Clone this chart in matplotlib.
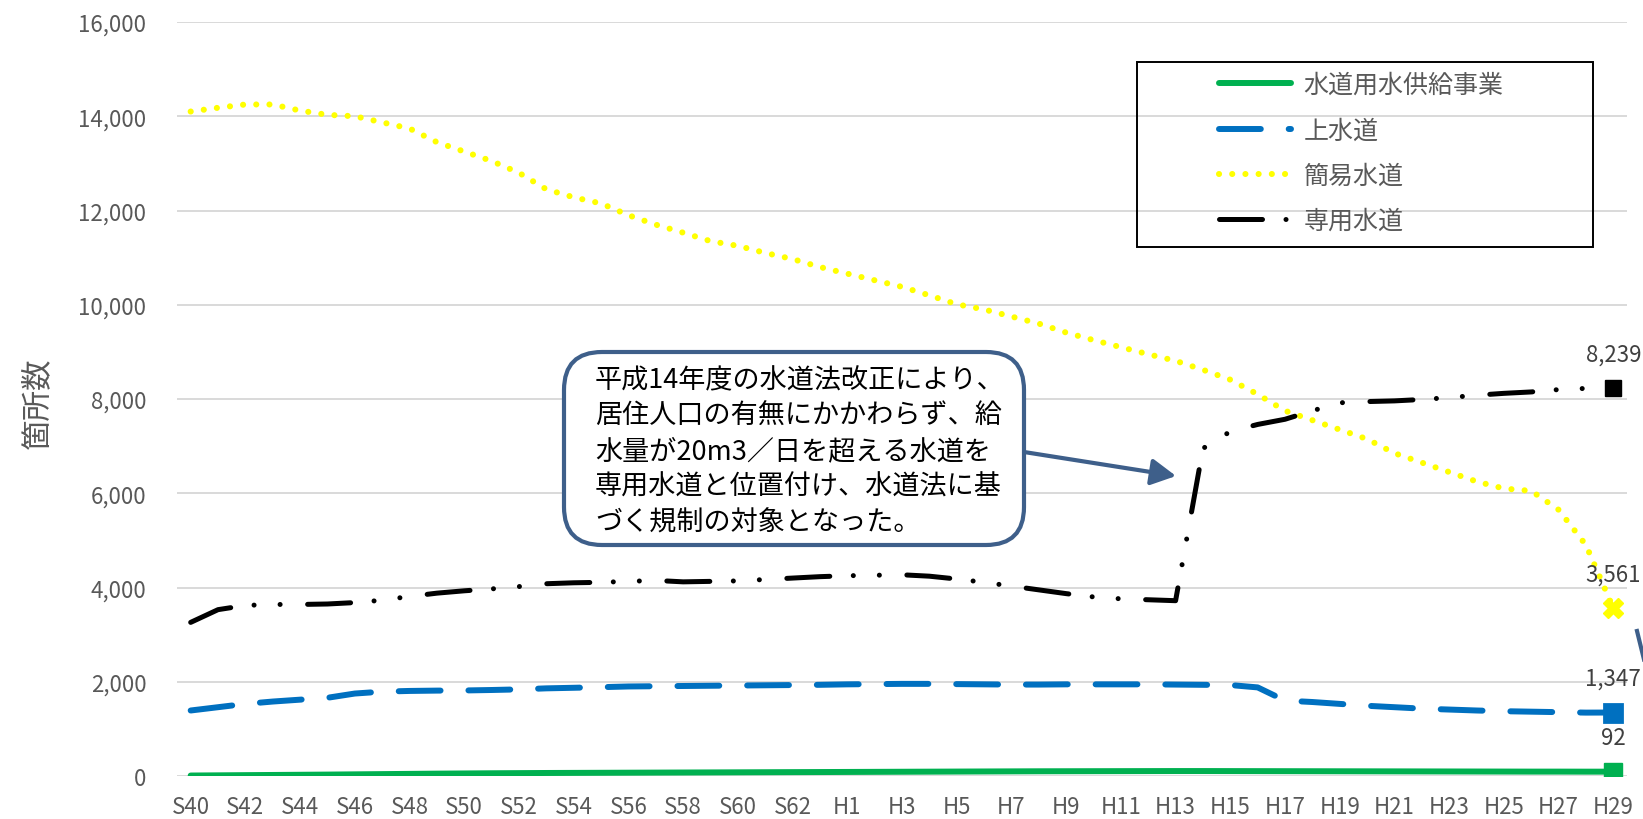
# 水道の種類別箇所数の推移 (S40 - H29)
import numpy as np
import matplotlib.pyplot as plt
from matplotlib.lines import Line2D
from matplotlib.patches import Rectangle, FancyBboxPatch, FancyArrowPatch

plt.rcParams['font.family'] = ['Noto Sans CJK JP', 'DejaVu Sans']

# data (年度ごと)
year_labels = ['S40', 'S41', 'S42', 'S43', 'S44', 'S45', 'S46', 'S47', 'S48', 'S49',
               'S50', 'S51', 'S52', 'S53', 'S54', 'S55', 'S56', 'S57', 'S58', 'S59',
               'S60', 'S61', 'S62', 'S63', 'H1', 'H2', 'H3', 'H4', 'H5', 'H6',
               'H7', 'H8', 'H9', 'H10', 'H11', 'H12', 'H13', 'H14', 'H15', 'H16',
               'H17', 'H18', 'H19', 'H20', 'H21', 'H22', 'H23', 'H24', 'H25', 'H26',
               'H27', 'H28', 'H29']

suido_kyokyu = [10, 14, 18, 22, 26, 30, 35, 40, 45, 50,
                54, 58, 61, 64, 66, 68, 70, 72, 74, 76,
                78, 80, 82, 84, 86, 88, 90, 92, 94, 96,
                98, 100, 101, 102, 103, 104, 105, 105, 104, 103,
                102, 101, 100, 99, 98, 97, 96, 95, 94, 93,
                93, 92, 92]

josuido = [1390, 1460, 1530, 1580, 1620, 1660, 1750, 1790, 1805, 1812,
           1815, 1825, 1838, 1860, 1872, 1885, 1900, 1905, 1910, 1915,
           1920, 1925, 1930, 1935, 1945, 1950, 1955, 1955, 1950, 1945,
           1940, 1940, 1945, 1945, 1945, 1945, 1940, 1935, 1930, 1880,
           1600, 1570, 1530, 1490, 1460, 1430, 1410, 1390, 1375, 1365,
           1355, 1345, 1347]

kani_suido = [14100, 14180, 14250, 14250, 14120, 14030, 14000, 13870, 13740, 13450,
              13250, 13050, 12800, 12450, 12280, 12150, 11900, 11700, 11530, 11350,
              11250, 11100, 10970, 10800, 10660, 10520, 10380, 10200, 10010, 9900,
              9750, 9600, 9410, 9250, 9100, 8950, 8810, 8620, 8410, 8100,
              7750, 7550, 7350, 7150, 6850, 6650, 6450, 6250, 6100, 6050,
              5650, 4900, 3561]

senyo_suido = [3260, 3530, 3620, 3640, 3640, 3650, 3680, 3730, 3810, 3880,
               3930, 3970, 4020, 4080, 4100, 4110, 4130, 4150, 4120, 4130,
               4140, 4170, 4200, 4230, 4250, 4260, 4270, 4240, 4180, 4110,
               4030, 3950, 3870, 3800, 3760, 3740, 3720, 6950, 7310, 7460,
               7570, 7750, 7920, 7945, 7960, 7990, 8030, 8080, 8120, 8150,
               8200, 8225, 8239]

note = ('平成14年度の水道法改正により、\n'
        '居住人口の有無にかかわらず、給\n'
        '水量が20m3／日を超える水道を\n'
        '専用水道と位置付け、水道法に基\n'
        'づく規制の対象となった。')

x = np.arange(len(year_labels))
gray = '#595959'
note_blue = '#3E5F8A'

fig = plt.figure(figsize=(16.43, 8.2), dpi=100)
ax = fig.add_axes([177 / 1643, 43 / 820, 1450 / 1643, 754 / 820])

# lines
ax.plot(x, suido_kyokyu, color='#00B050', lw=4.3, solid_capstyle='round',
        label='水道用水供給事業')
ax.plot(x, josuido, color='#0070C0', lw=4.3, dashes=[7, 4.67],
        dash_capstyle='round', label='上水道')
ax.plot(x, kani_suido, color='#FFFF00', lw=4.4, dashes=[0.01, 2.15],
        dash_capstyle='round', label='簡易水道')
ax.plot(x, senyo_suido, color='black', lw=3.6,
        dashes=[8.6, 4.7, 0.01, 5.2, 0.01, 5.5],
        dash_capstyle='round', label='専用水道')

# end markers + labels
last = len(x) - 1
ax.plot(last, suido_kyokyu[-1], 's', color='#00B050', ms=13)
ax.plot(last, josuido[-1], 's', color='#0070C0', ms=13, mew=2, mec='#0070C0')
ax.plot(last, kani_suido[-1], 'X', color='#FFFF00', ms=15)
ax.plot(last, senyo_suido[-1], 's', color='black', ms=12)
for v in [suido_kyokyu[-1], josuido[-1], kani_suido[-1], senyo_suido[-1]]:
    ax.annotate(f'{v:,}', (last, v), xytext=(0, 24.5), textcoords='offset points',
                ha='center', va='center', fontsize=16, color='#404040')

# axes
ax.set_xlim(-0.5, len(x) - 0.5)
ax.set_ylim(0, 16000)
ax.set_yticks(np.arange(0, 16001, 2000))
ax.yaxis.set_major_formatter(lambda v, p: f'{int(v):,}')
ax.set_xticks(x[::2])
ax.set_xticklabels(year_labels[::2])
ax.tick_params(axis='both', length=0, labelsize=16, labelcolor=gray)
ax.tick_params(axis='x', pad=14)
ax.tick_params(axis='y', pad=22)
ax.yaxis.grid(True, color='#D9D9D9', lw=1.4)
ax.set_axisbelow(True)
for s in ax.spines.values():
    s.set_visible(False)

fig.text(37 / 1643, (820 - 403) / 820, '箇所数', rotation=90, ha='center',
         va='center', fontsize=22, color=gray)

# legend
leg = ax.legend(loc='center left', bbox_to_anchor=(1219 / 1643, (820 - 154) / 820),
                bbox_transform=fig.transFigure, frameon=False, fontsize=18,
                handlelength=2.88, handletextpad=0.5, labelspacing=0.77,
                borderpad=0, borderaxespad=0, labelcolor=gray)
fig.add_artist(Rectangle((1137 / 1643, (820 - 248) / 820), 456 / 1643, 185 / 820,
                         transform=fig.transFigure, fill=False, ec='black', lw=1.4))

# note box and arrows (pixel positions / 100 -> inches)
fig.add_artist(FancyBboxPatch((5.64, 8.2 - 5.46), 4.60, 1.93,
                              boxstyle='round,pad=0,rounding_size=0.38',
                              transform=fig.dpi_scale_trans, fc='white',
                              ec=note_blue, lw=3))
fig.text(5.95, 8.2 - 4.52, note, transform=fig.dpi_scale_trans, ha='left',
         va='center', fontsize=19.5, linespacing=1.4, color='black')
fig.add_artist(FancyArrowPatch((10.24, 8.2 - 4.53), (11.76, 8.2 - 4.77),
                               transform=fig.dpi_scale_trans,
                               arrowstyle='-|>,head_length=0.75,head_width=0.4',
                               mutation_scale=20, color=note_blue, lw=3,
                               shrinkA=0, shrinkB=0))
fig.add_artist(Line2D([16.37, 16.50], [8.2 - 6.32, 8.2 - 6.85],
                      transform=fig.dpi_scale_trans, color=note_blue, lw=3))

fig.savefig('out.png', dpi=100)
